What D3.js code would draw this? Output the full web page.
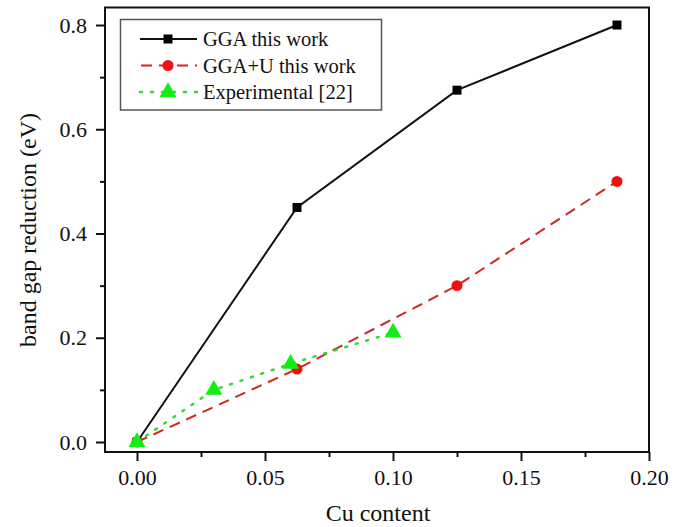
<!DOCTYPE html>
<html>
<head>
<meta charset="utf-8">
<script src="https://cdn.jsdelivr.net/npm/d3@7"></script>
<style>
  html, body { margin: 0; padding: 0; background: #fff; }
  svg { display: block; }
</style>
</head>
<body>
<div id="chart"></div>
<script>
// Band gap reduction vs Cu content
const ggaX = [0, 0.0625, 0.125, 0.1875];
const ggaY = [0, 0.45, 0.675, 0.80];
const ggauX = [0, 0.0625, 0.125, 0.1875];
const ggauY = [0, 0.14, 0.30, 0.50];
const expX = [0, 0.03, 0.06, 0.10];
const expY = [0, 0.10, 0.15, 0.21];
const seriesNames = ["GGA this work", "GGA+U this work", "Experimental [22]"];
const xTicks = [0, 0.05, 0.10, 0.15, 0.20];
const yTicks = [0, 0.2, 0.4, 0.6, 0.8];

const FONT = "Liberation Serif, Times New Roman, DejaVu Serif, serif";
const W = 689, H = 527;
const plot = { left: 105, right: 649, top: 7.5, bottom: 452 };

const svg = d3.select("#chart").append("svg").attr("width", W).attr("height", H)
  .attr("font-family", FONT);

const x = d3.scaleLinear().domain([-0.0125, 0.20]).range([plot.left, plot.right]);
const y = d3.scaleLinear().domain([-0.0192, 0.8336]).range([plot.bottom, plot.top]);

// frame
svg.append("rect")
  .attr("x", plot.left).attr("y", plot.top)
  .attr("width", plot.right - plot.left).attr("height", plot.bottom - plot.top)
  .attr("fill", "none").attr("stroke", "#111").attr("stroke-width", 2);

// x axis: major + minor ticks
const xMinor = d3.range(0.025, 0.2, 0.05);
const xAxis = svg.append("g").attr("transform", `translate(0,${plot.bottom})`);
xAxis.call(d3.axisBottom(x).tickValues(xTicks).tickFormat(d3.format(".2f")).tickSize(9).tickPadding(8));
xAxis.append("g").call(d3.axisBottom(x).tickValues(xMinor).tickFormat("").tickSize(5));
xAxis.selectAll(".domain").remove();
xAxis.selectAll("line").attr("stroke", "#111").attr("stroke-width", 2);

// y axis
const yMinor = d3.range(0.1, 0.8, 0.2);
const yAxis = svg.append("g").attr("transform", `translate(${plot.left},0)`);
yAxis.call(d3.axisLeft(y).tickValues(yTicks).tickFormat(d3.format(".1f")).tickSize(9).tickPadding(9));
yAxis.append("g").call(d3.axisLeft(y).tickValues(yMinor).tickFormat("").tickSize(5));
yAxis.selectAll(".domain").remove();
yAxis.selectAll("line").attr("stroke", "#111").attr("stroke-width", 2);

[xAxis, yAxis].forEach(g => {
  g.attr("font-family", FONT).attr("font-size", 22);
  g.selectAll("text").attr("fill", "#111");
});

// axis titles
svg.append("text").attr("x", (plot.left + plot.right) / 2 + 1).attr("y", 521)
  .attr("text-anchor", "middle").attr("font-size", 24).attr("fill", "#111").text("Cu content");
svg.append("text").attr("transform", `translate(36,230) rotate(-90)`)
  .attr("text-anchor", "middle").attr("font-size", 24).attr("fill", "#111").text("band gap reduction (eV)");

const line = d3.line().x(d => x(d[0])).y(d => y(d[1]));
const zip = (a, b) => a.map((v, i) => [v, b[i]]);

const ggaPts = zip(ggaX, ggaY), ggauPts = zip(ggauX, ggauY), expPts = zip(expX, expY);

const red = "#d42424", redMark = "#f01010", green = "#2edc2e", greenMark = "#11ee11";

// lines
svg.append("path").datum(ggauPts).attr("d", line).attr("fill", "none")
  .attr("stroke", red).attr("stroke-width", 2).attr("stroke-dasharray", "11,7");
svg.append("path").datum(expPts).attr("d", line).attr("fill", "none")
  .attr("stroke", green).attr("stroke-width", 2.5).attr("stroke-dasharray", "2,9")
  .attr("stroke-linecap", "round");
svg.append("path").datum(ggaPts).attr("d", line).attr("fill", "none")
  .attr("stroke", "#111").attr("stroke-width", 2);

// markers
const sq = d3.symbol().type(d3.symbolSquare).size(81);
const ci = d3.symbol().type(d3.symbolCircle).size(95);
const tri = d3.symbol().type(d3.symbolTriangle).size(125);

svg.selectAll(".m-gga").data(ggaPts).join("path").attr("class", "m-gga")
  .attr("transform", d => `translate(${x(d[0])},${y(d[1])})`).attr("d", sq).attr("fill", "#000");
svg.selectAll(".m-ggau").data(ggauPts).join("path").attr("class", "m-ggau")
  .attr("transform", d => `translate(${x(d[0])},${y(d[1])})`).attr("d", ci).attr("fill", redMark);
svg.selectAll(".m-exp").data(expPts).join("path").attr("class", "m-exp")
  .attr("transform", d => `translate(${x(d[0])},${y(d[1])})`).attr("d", tri).attr("fill", greenMark);

// legend
const lg = svg.append("g");
lg.append("rect").attr("x", 120.5).attr("y", 19.5).attr("width", 261).attr("height", 90.5)
  .attr("fill", "#fff").attr("stroke", "#555").attr("stroke-width", 1.5);
const rows = [
  { name: seriesNames[0], stroke: "#111", dash: null, sym: sq, fill: "#000", w: 2 },
  { name: seriesNames[1], stroke: red, dash: "11,7", sym: ci, fill: redMark, w: 2 },
  { name: seriesNames[2], stroke: green, dash: "2,9", sym: tri, fill: greenMark, w: 2.5 }
];
rows.forEach((r, i) => {
  const cy = 39 + i * 26.5;
  const ln = lg.append("line").attr("x1", 140).attr("x2", 197).attr("y1", cy).attr("y2", cy)
    .attr("stroke", r.stroke).attr("stroke-width", r.w);
  if (r.dash) ln.attr("stroke-dasharray", r.dash).attr("stroke-dashoffset", i === 1 ? -1 : 0)
    .attr("stroke-linecap", i === 2 ? "round" : "butt");
  lg.append("path").attr("d", r.sym).attr("fill", r.fill)
    .attr("transform", `translate(168,${cy})`);
  lg.append("text").attr("x", 203).attr("y", cy + 7).attr("font-size", 20.5).attr("fill", "#111").text(r.name);
});
</script>
</body>
</html>
